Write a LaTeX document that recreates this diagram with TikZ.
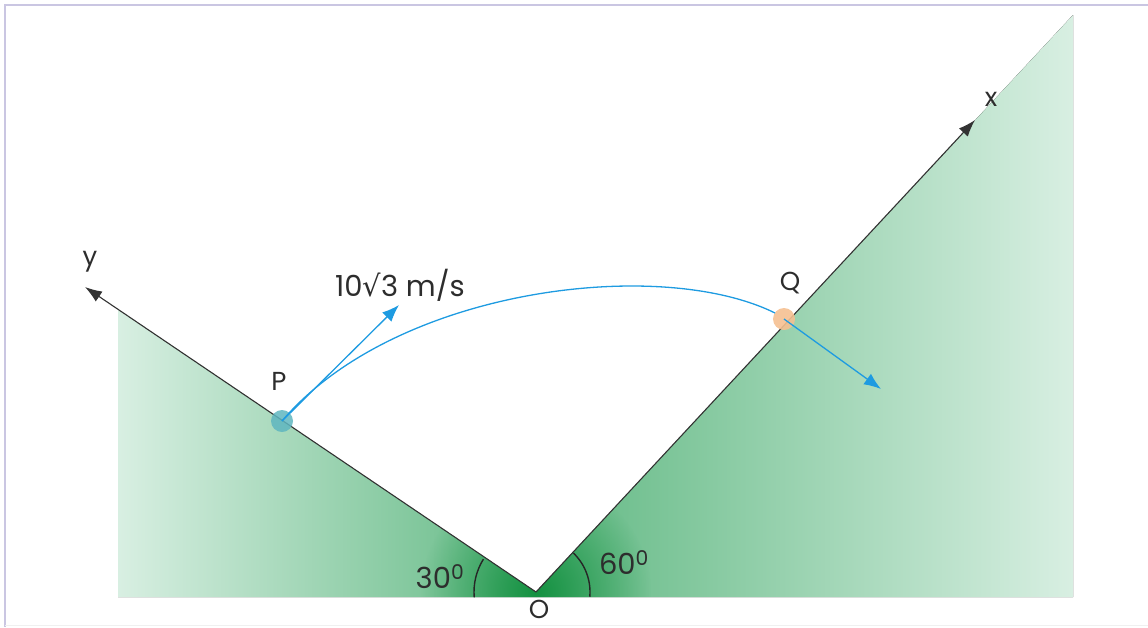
\documentclass[tikz,border=0pt]{standalone}
\usepackage{fontspec}
\setmainfont{Poppins}
\newfontfamily\dejavu{DejaVu Sans}
\usetikzlibrary{arrows.meta,fadings}
\definecolor{lightg}{RGB}{216,239,226}
\definecolor{midg}{RGB}{96,184,130}
\definecolor{darkg}{RGB}{20,145,65}
\definecolor{arrowblue}{RGB}{30,155,225}
\definecolor{framec}{RGB}{202,198,226}
\definecolor{txt}{RGB}{45,45,45}
\definecolor{pcol}{RGB}{95,182,192}
\definecolor{qcol}{RGB}{245,192,145}
\tikzfading[name=radfade, inner color=transparent!0, outer color=transparent!100]
\begin{document}
\begin{tikzpicture}[x=1pt,y=-1pt,
  axis/.style={draw=black!80, line width=1.1pt, -{Latex[length=17pt,width=12pt]}},
  varrow/.style={draw=arrowblue, line width=1.3pt, -{Latex[length=17pt,width=13pt]}},
  traj/.style={draw=arrowblue, line width=1.3pt},
  angarc/.style={draw=black!85, line width=1.4pt},
  dot/.style={circle, inner sep=0pt, minimum size=22pt, draw=none},
  lbl/.style={text=txt, font=\fontsize{26}{30}\selectfont, inner sep=0pt},
  nlbl/.style={text=txt, font=\fontsize{29}{34}\selectfont, inner sep=0pt}]
\useasboundingbox (0,0) rectangle (1148,627);
% frame
\draw[framec, line width=2.5pt] (4,5) -- (1148,5);
\draw[framec, line width=2.5pt] (5,4) -- (5,627);
\draw[black!6, line width=1pt] (5,625.5) -- (1148,625.5);
\coordinate (O) at (536,592);
\coordinate (Y) at (85,287);
\coordinate (X) at (975,120);
% green regions
\fill[left color=lightg, right color=midg] (118,597) -- (118,309.5) -- (O) -- (536,597) -- cycle;
\fill[left color=midg, right color=lightg] (536,597) -- (O) -- (1073,15) -- (1073,597) -- cycle;
\begin{scope}
  \clip (118,597) -- (118,309.5) -- (O) -- (1073,15) -- (1073,597) -- cycle;
  \fill[darkg, path fading=radfade] (O) circle (115);
\end{scope}
% axes
\draw[axis] (O) -- (Y);
\draw[axis] (O) -- (X);
% angle arcs (y axis points down, so angles are mirrored)
\draw[angarc] (O) ++(175:62) arc[start angle=175, end angle=212, radius=62];
\draw[angarc] (O) ++(5:54) arc[start angle=5, end angle=-46, radius=54];
% dots
\node[dot, fill=pcol, opacity=0.85] (P) at (282,421) {};
\node[dot, fill=qcol, opacity=0.9] (Q) at (784,319) {};
\coordinate (V1) at (399,305);
\coordinate (V2) at (881,389);
\coordinate (Qend) at (775,313);
% velocity arrows and trajectory
\draw[varrow] (P.center) -- (V1);
\draw[traj] (P.center) .. controls (395,288) and (660,256) .. (Qend);
\draw[varrow] (Q.center) -- (V2);
% labels
\node[lbl] (ylbl) at (90,262) {y};
\node[lbl] (xlbl) at (991,99) {x};
\node[lbl] (plbl) at (279,381) {P};
\node[lbl] (qlbl) at (790,283) {Q};
\node[nlbl] (vlbl) at (400,285) {10{\dejavu √}3 m/s};
\node[nlbl] (a30) at (440,577) {30\textsuperscript{0}};
\node[nlbl] (a60) at (624,563) {60\textsuperscript{0}};
\node[nlbl, font=\fontsize{26}{30}\selectfont] (olbl) at (539,609) {O};
\end{tikzpicture}
\end{document}
